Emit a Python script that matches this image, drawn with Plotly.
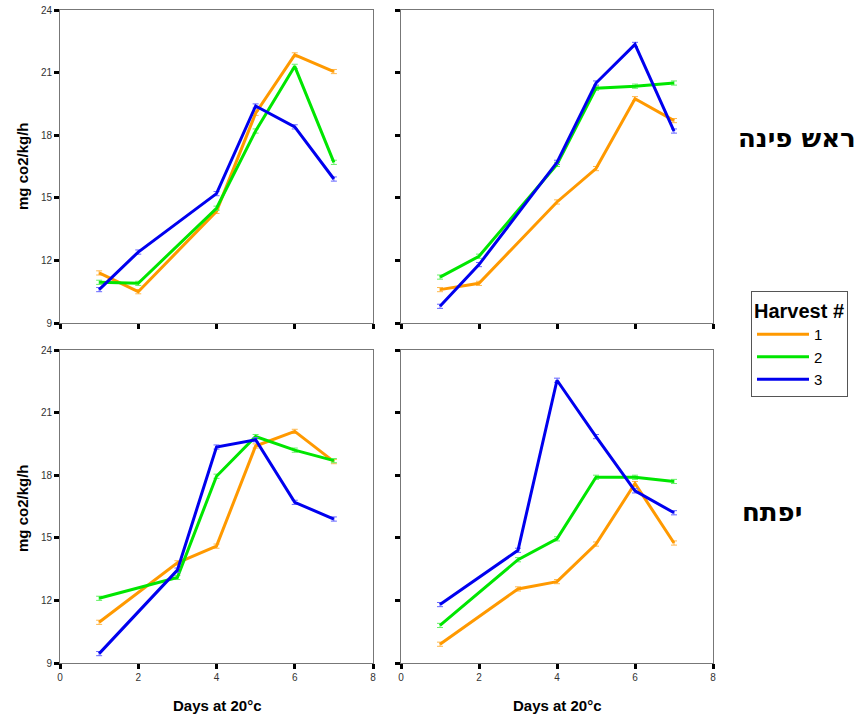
import plotly.graph_objects as go

# ---------------- data ----------------
harvests = ["1", "2", "3"]
colors = ["#FF9900", "#00E600", "#0000EE"]
err_colors = ["#FFB84D", "#66F066", "#6666FF"]

# Top row (ראש פינה)
days_top = [1, 2, 4, 5, 6, 7]
tl_h1 = [11.4, 10.5, 14.35, 19.05, 21.85, 21.05]
tl_h2 = [10.95, 10.9, 14.5, 18.2, 21.3, 16.7]
tl_h3 = [10.6, 12.4, 15.2, 19.4, 18.4, 15.9]

tr_h1 = [10.6, 10.9, 14.8, 16.4, 19.75, 18.7]
tr_h2 = [11.2, 12.2, 16.6, 20.25, 20.35, 20.5]
tr_h3 = [9.8, 11.8, 16.7, 20.5, 22.35, 18.2]

# Bottom row (יפתח)
days_bottom = [1, 3, 4, 5, 6, 7]
bl_h1 = [10.95, 13.8, 14.6, 19.4, 20.1, 18.65]
bl_h2 = [12.1, 13.1, 17.95, 19.85, 19.2, 18.7]
bl_h3 = [9.45, 13.45, 19.35, 19.7, 16.7, 15.9]

br_h1 = [9.9, 12.55, 12.9, 14.7, 17.6, 14.75]
br_h2 = [10.8, 13.95, 14.95, 17.9, 17.9, 17.7]
br_h3 = [11.8, 14.4, 22.55, 19.85, 17.25, 16.2]

err = [0.1, 0.1, 0.1, 0.1, 0.1, 0.1]

y_ticks = [9, 12, 15, 18, 21, 24]
x_ticks = [0, 2, 4, 6, 8]
y_title = "mg co2/kg/h"
x_title = "Days at 20°c"
region_top = "ראש פינה"
region_bottom = "יפתח"
legend_title = "Harvest #"

FONT = "Arial, Liberation Sans, DejaVu Sans, sans-serif"
HEB_FONT = "DejaVu Sans, Arial, sans-serif"

panels = [
    ("x", "y", days_top, [tl_h1, tl_h2, tl_h3]),
    ("x2", "y2", days_top, [tr_h1, tr_h2, tr_h3]),
    ("x3", "y3", days_bottom, [bl_h1, bl_h2, bl_h3]),
    ("x4", "y4", days_bottom, [br_h1, br_h2, br_h3]),
]

fig = go.Figure()
for p, (xa, ya, days, series) in enumerate(panels):
    for i, vals in enumerate(series):
        fig.add_trace(go.Scatter(
            x=days, y=vals, xaxis=xa, yaxis=ya, mode="lines",
            line=dict(color=colors[i], width=3),
            error_y=dict(type="data", array=err, color=err_colors[i],
                         thickness=1, width=3),
            name=harvests[i], legendgroup=harvests[i],
            showlegend=(p == 0),
        ))

W, H = 863, 718
xd_left = [60 / W, 373 / W]
xd_right = [401 / W, 713 / W]
yd_top = [1 - 323 / H, 1 - 10 / H]
yd_bot = [1 - 663 / H, 1 - 350 / H]

def xaxis(domain, anchor, labels):
    return dict(domain=domain, anchor=anchor, range=[0, 8], tickvals=x_ticks,
                showticklabels=labels, ticks="outside", ticklen=5, tickwidth=3,
                tickcolor="black", showline=True, linecolor="#777777",
                linewidth=1, mirror=True, showgrid=False, zeroline=False,
                automargin=False,
                tickfont=dict(size=10, color="#333333", family=FONT))

def yaxis(domain, anchor, labels):
    return dict(domain=domain, anchor=anchor, range=[9, 24], tickvals=y_ticks,
                showticklabels=labels, ticks="outside", ticklen=5, tickwidth=3,
                tickcolor="black", showline=True, linecolor="#777777",
                linewidth=1, mirror=True, showgrid=False, zeroline=False,
                automargin=False,
                tickfont=dict(size=10, color="#333333", family=FONT))

fig.update_layout(
    width=W, height=H,
    margin=dict(l=0, r=0, t=0, b=0, autoexpand=False),
    paper_bgcolor="white", plot_bgcolor="white",
    font=dict(family=FONT, color="black"),
    xaxis=xaxis(xd_left, "y", False),
    yaxis=yaxis(yd_top, "x", True),
    xaxis2=xaxis(xd_right, "y2", False),
    yaxis2=yaxis(yd_top, "x2", False),
    xaxis3=xaxis(xd_left, "y3", True),
    yaxis3=yaxis(yd_bot, "x3", True),
    xaxis4=xaxis(xd_right, "y4", True),
    yaxis4=yaxis(yd_bot, "x4", False),
    legend=dict(
        x=751 / W, y=1 - 291 / H, xanchor="left", yanchor="top",
        bgcolor="white", bordercolor="#555555", borderwidth=1,
        title=dict(text="<b>" + legend_title + "</b>",
                   font=dict(size=20, family=FONT)),
        font=dict(size=15, family=FONT),
        tracegroupgap=0, itemwidth=52, entrywidth=140,
    ),
    showlegend=True,
)

anns = []
for yc in [166, 508]:
    anns.append(dict(text="<b>" + y_title + "</b>", textangle=-90,
                     x=22 / W, y=1 - yc / H, xref="paper", yref="paper",
                     xanchor="center", yanchor="middle",
                     showarrow=False, font=dict(size=15, family=FONT)))
for xc in [217, 557]:
    anns.append(dict(text="<b>" + x_title + "</b>",
                     x=xc / W, y=1 - 705 / H, xref="paper", yref="paper",
                     xanchor="center", yanchor="middle",
                     showarrow=False, font=dict(size=15, family=FONT)))
anns.append(dict(text="<b>" + region_top + "</b>", x=797 / W, y=1 - 138 / H,
                 xref="paper", yref="paper", showarrow=False,
                 xanchor="center", yanchor="middle",
                 font=dict(size=26, family=HEB_FONT)))
anns.append(dict(text="<b>" + region_bottom + "</b>", x=772 / W, y=1 - 512 / H,
                 xref="paper", yref="paper", showarrow=False,
                 xanchor="center", yanchor="middle",
                 font=dict(size=26, family=HEB_FONT)))
fig.update_layout(annotations=anns)

fig.write_html("out.html")
